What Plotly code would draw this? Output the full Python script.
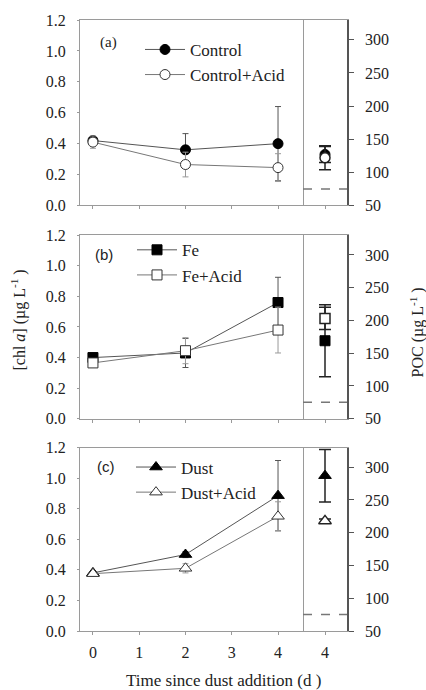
import plotly.graph_objects as go

# ---------------- data ----------------
days = [0, 2, 4]
poc_day = [4]

control = [0.42, 0.36, 0.40]
control_err = [0.01, 0.105, 0.24]
control_acid = [0.41, 0.265, 0.245]
control_acid_err = [0.04, 0.08, 0.09]

fe = [0.40, 0.43, 0.76]
fe_err = [0.01, 0.095, 0.165]
fe_acid = [0.365, 0.445, 0.58]
fe_acid_err = [0.01, 0.085, 0.15]

dust = [0.38, 0.50, 0.885]
dust_err = [0.01, 0.02, 0.23]
dust_acid = [0.375, 0.41, 0.75]
dust_acid_err = [0.01, 0.03, 0.095]

poc_control = [127]
poc_control_err = [12]
poc_control_acid = [122]
poc_control_acid_err = [18]
poc_fe = [169]
poc_fe_err = [55]
poc_fe_acid = [203]
poc_fe_acid_err = [17]
poc_dust = [287]
poc_dust_err = [40]
poc_dust_acid = [218]
poc_dust_acid_err = [3]

poc_baseline = 75

chl_ticks = [0.0, 0.2, 0.4, 0.6, 0.8, 1.0, 1.2]
poc_ticks = [50, 100, 150, 200, 250, 300]
day_ticks = [0, 1, 2, 3, 4]

panel_labels = ["(a)", "(b)", "(c)"]

# ---------------- layout helpers ----------------
W, H = 426, 690
ML, MR, MT, MB = 80, 79, 15, 59
PW = W - ML - MR
PH = H - MT - MB

def px_x(p):
    return (p - ML) / PW

def px_y(p):
    return (H - MB - p) / PH

xsplit = px_x(303)
panels_px = [(15, 202), (232, 417), (446, 631)]

SERIF = "Liberation Serif"
SANS = "Liberation Sans"
AX = "#9a9a9a"
AX2 = "#555555"
FILLED = "black"
OPEN_EDGE = "#333333"
LINE_F = "#555555"
LINE_O = "#777777"
ERR_F = "#555555"
ERR_O = "#999999"

fig = go.Figure()

series = [
    (control, control_err, control_acid, control_acid_err, "Control", "Control+Acid", "circle",
     poc_control, poc_control_err, poc_control_acid, poc_control_acid_err),
    (fe, fe_err, fe_acid, fe_acid_err, "Fe", "Fe+Acid", "square",
     poc_fe, poc_fe_err, poc_fe_acid, poc_fe_acid_err),
    (dust, dust_err, dust_acid, dust_acid_err, "Dust", "Dust+Acid", "triangle-up",
     poc_dust, poc_dust_err, poc_dust_acid, poc_dust_acid_err),
]

legend_pos = [(140, 27), (132, 229), (131, 448)]

for i, (f, fe_, o, oe, nf, no, sym, pf, pfe, po, poe) in enumerate(series):
    mx = "x" if i == 0 else f"x{2*i+1}"
    my = "y" if i == 0 else f"y{2*i+1}"
    px_ = f"x{2*i+2}"
    py_ = f"y{2*i+2}"
    leg = "legend" if i == 0 else f"legend{i+1}"
    msize = 10 if sym != "triangle-up" else 11
    fig.add_trace(go.Scatter(
        x=days, y=f, name=nf, mode="lines+markers", xaxis=mx, yaxis=my, legend=leg,
        line=dict(color=LINE_F, width=1),
        marker=dict(symbol=sym, size=msize, color=FILLED, line=dict(color=FILLED, width=1)),
        error_y=dict(type="data", array=fe_, color=ERR_F, thickness=1, width=3),
    ))
    fig.add_trace(go.Scatter(
        x=days, y=o, name=no, mode="lines+markers", xaxis=mx, yaxis=my, legend=leg,
        line=dict(color=LINE_O, width=1),
        marker=dict(symbol=sym, size=msize, color="white", line=dict(color=OPEN_EDGE, width=1)),
        error_y=dict(type="data", array=oe, color=ERR_O, thickness=1, width=3),
    ))
    fig.add_trace(go.Scatter(
        x=poc_day, y=pf, mode="markers", xaxis=px_, yaxis=py_, showlegend=False,
        marker=dict(symbol=sym, size=msize, color=FILLED, line=dict(color=FILLED, width=1)),
        error_y=dict(type="data", array=pfe, color="#222222", thickness=1.5, width=6),
    ))
    fig.add_trace(go.Scatter(
        x=poc_day, y=po, mode="markers", xaxis=px_, yaxis=py_, showlegend=False,
        marker=dict(symbol=sym, size=msize, color="white", line=dict(color="#222222", width=1.5)),
        error_y=dict(type="data", array=poe, color="#222222", thickness=1.5, width=6),
    ))

    top, bot = panels_px[i]
    dom = [px_y(bot), px_y(top)]
    last = i == 2
    tf = dict(family=SERIF, size=16, color="#222")
    xa = dict(domain=[0, xsplit], anchor=my, range=[-0.28, 4.54], tickvals=day_ticks,
              showticklabels=last, ticks="outside", ticklen=3, tickcolor=AX,
              ticklabelstandoff=4,
              showline=True, linecolor=AX, linewidth=1, mirror=True, showgrid=False,
              zeroline=False, tickfont=tf)
    ya = dict(domain=dom, anchor=mx, range=[0, 1.2], tickvals=chl_ticks, tickformat=".1f",
              ticks="outside", ticklen=2, tickcolor=AX, ticklabelstandoff=8,
              showline=True, linecolor=AX,
              linewidth=1, mirror=True, showgrid=False, zeroline=False, tickfont=tf)
    pxa = dict(domain=[xsplit, 1], anchor=py_, range=[3.5, 4.5], tickvals=poc_day,
               showticklabels=last, ticks="outside", ticklen=3, tickcolor=AX,
               ticklabelstandoff=4,
               showline=True, linecolor=AX, linewidth=1, mirror=True, showgrid=False,
               zeroline=False, tickfont=tf)
    pya = dict(domain=dom, anchor=px_, side="right", range=[50, 330], tickvals=poc_ticks,
               ticks="outside", ticklen=5, tickcolor=AX2, ticklabelstandoff=8,
               showline=True, linecolor=AX2,
               linewidth=1.5, showgrid=False, zeroline=False, tickfont=tf)
    kx = "xaxis" if i == 0 else f"xaxis{2*i+1}"
    ky = "yaxis" if i == 0 else f"yaxis{2*i+1}"
    fig.layout[kx] = xa
    fig.layout[ky] = ya
    fig.layout[f"xaxis{2*i+2}"] = pxa
    fig.layout[f"yaxis{2*i+2}"] = pya

    fig.add_shape(type="line", xref=f"{px_} domain", yref=py_, x0=0, x1=1,
                  y0=poc_baseline, y1=poc_baseline,
                  line=dict(color="#777777", width=1.5, dash="dash"))

    lx, ly = legend_pos[i]
    fig.layout[leg] = dict(x=px_x(lx), y=px_y(ly), xanchor="left", yanchor="top",
                           bgcolor="rgba(0,0,0,0)", borderwidth=0,
                           font=dict(family=SERIF, size=17, color="#222"),
                           tracegroupgap=0, itemwidth=40)

# panel labels
label_px = [(98, 38, SERIF), (93, 251, SANS), (95, 465, SANS)]
for txt, (lx, ly, fam) in zip(panel_labels, label_px):
    fig.add_annotation(text=txt, x=px_x(lx), y=px_y(ly), xref="paper", yref="paper",
                       xanchor="left", yanchor="middle", showarrow=False,
                       font=dict(family=fam, size=15, color="#222"))

# axis titles
fig.add_annotation(text="[chl <i>a</i>] (µg L<sup>-1</sup> )", x=px_x(19), y=px_y(318),
                   xref="paper", yref="paper", xanchor="center", yanchor="middle",
                   textangle=-90, showarrow=False,
                   font=dict(family=SERIF, size=16, color="#222"))
fig.add_annotation(text="POC (µg L<sup>-1</sup> )", x=px_x(417), y=px_y(330),
                   xref="paper", yref="paper", xanchor="center", yanchor="middle",
                   textangle=-90, showarrow=False,
                   font=dict(family=SERIF, size=16, color="#222"))
fig.add_annotation(text="Time since dust addition (d )", x=px_x(223), y=px_y(681),
                   xref="paper", yref="paper", xanchor="center", yanchor="middle",
                   showarrow=False,
                   font=dict(family=SERIF, size=17, color="#222"))

fig.update_layout(width=W, height=H, margin=dict(l=ML, r=MR, t=MT, b=MB),
                  paper_bgcolor="white", plot_bgcolor="white", showlegend=True)

fig.write_html("out.html", config={"displayModeBar": False},
               post_script="document.body.style.margin='0px';")
